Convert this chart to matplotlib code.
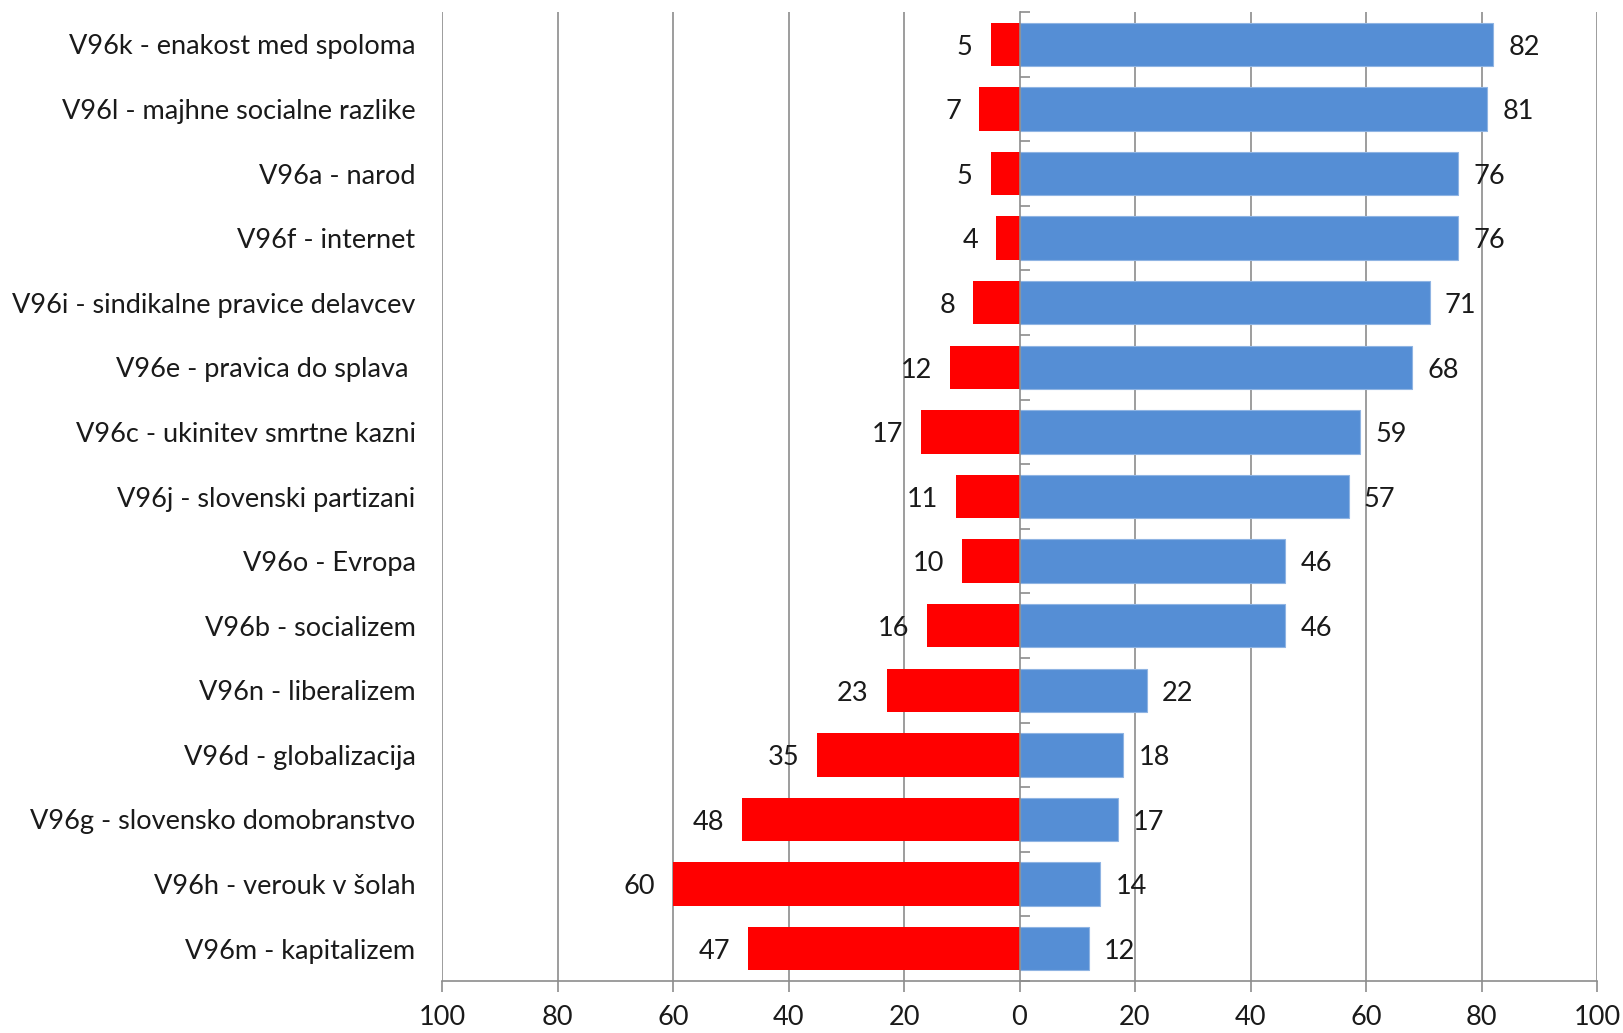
import matplotlib.pyplot as plt
import numpy as np

categories = [
    "V96k - enakost med spoloma",
    "V96l - majhne socialne razlike",
    "V96a - narod",
    "V96f - internet",
    "V96i - sindikalne pravice delavcev",
    "V96e - pravica do splava ",
    "V96c - ukinitev smrtne kazni",
    "V96j - slovenski partizani",
    "V96o - Evropa",
    "V96b - socializem",
    "V96n - liberalizem",
    "V96d - globalizacija",
    "V96g - slovensko domobranstvo",
    "V96h - verouk v šolah",
    "V96m - kapitalizem",
]
against = [5, 7, 5, 4, 8, 12, 17, 11, 10, 16, 23, 35, 48, 60, 47]
support = [82, 81, 76, 76, 71, 68, 59, 57, 46, 46, 22, 18, 17, 14, 12]
xticks = [-100, -80, -60, -40, -20, 0, 20, 40, 60, 80, 100]

plt.rcParams['font.family'] = ['Lato', 'DejaVu Sans']
grid_col = '#8c8c8c'
fs = 19.5

fig = plt.figure(figsize=(16.23, 10.33), dpi=100)
ax = fig.add_axes([442 / 1623, 1 - 981 / 1033, (1597 - 442) / 1623, (981 - 12) / 1033])

y = np.arange(len(categories))
ax.barh(y, [-v for v in against], height=0.67, color='#ff0000', zorder=3)
ax.barh(y, support, height=0.67, color='#558ed5', edgecolor='#8fb4e3', linewidth=0.8, zorder=3)

for yi, a, s in zip(y, against, support):
    ax.annotate(str(a), (-a, yi), xytext=(-13, -2), textcoords='offset points',
                ha='right', va='center', fontsize=fs, color='#1a1a1a', zorder=4)
    ax.annotate(str(s), (s, yi), xytext=(11, -2), textcoords='offset points',
                ha='left', va='center', fontsize=fs, color='#1a1a1a', zorder=4)

ax.set_xlim(-100, 100)
ax.set_ylim(len(categories) - 0.5, -0.5)
ax.set_xticks(xticks)
ax.set_xticklabels([str(abs(t)) for t in xticks], fontsize=fs, color='#1a1a1a')
ax.set_yticks(y)
ax.set_yticklabels(categories, fontsize=fs, color='#1a1a1a')
ax.tick_params(axis='y', length=0, pad=19)
ax.tick_params(axis='x', length=8, color=grid_col, width=1.2, pad=9)

for t in xticks:
    if t != 0:
        ax.axvline(t, color=grid_col, linewidth=1.2, zorder=1)

for sp in ['top', 'right', 'left']:
    ax.spines[sp].set_visible(False)
ax.spines['bottom'].set_color(grid_col)
ax.spines['bottom'].set_linewidth(1.2)

# vertical category axis at zero
sec = ax.secondary_yaxis(0.5)
sec.set_yticks(np.arange(len(categories) + 1) - 0.5)
sec.set_yticklabels([])
sec.tick_params(length=7, color=grid_col, width=1.2)
for sp in sec.spines.values():
    sp.set_color(grid_col)
    sp.set_linewidth(1.2)
sec.set_zorder(5)

fig.savefig("out.png", dpi=100)
